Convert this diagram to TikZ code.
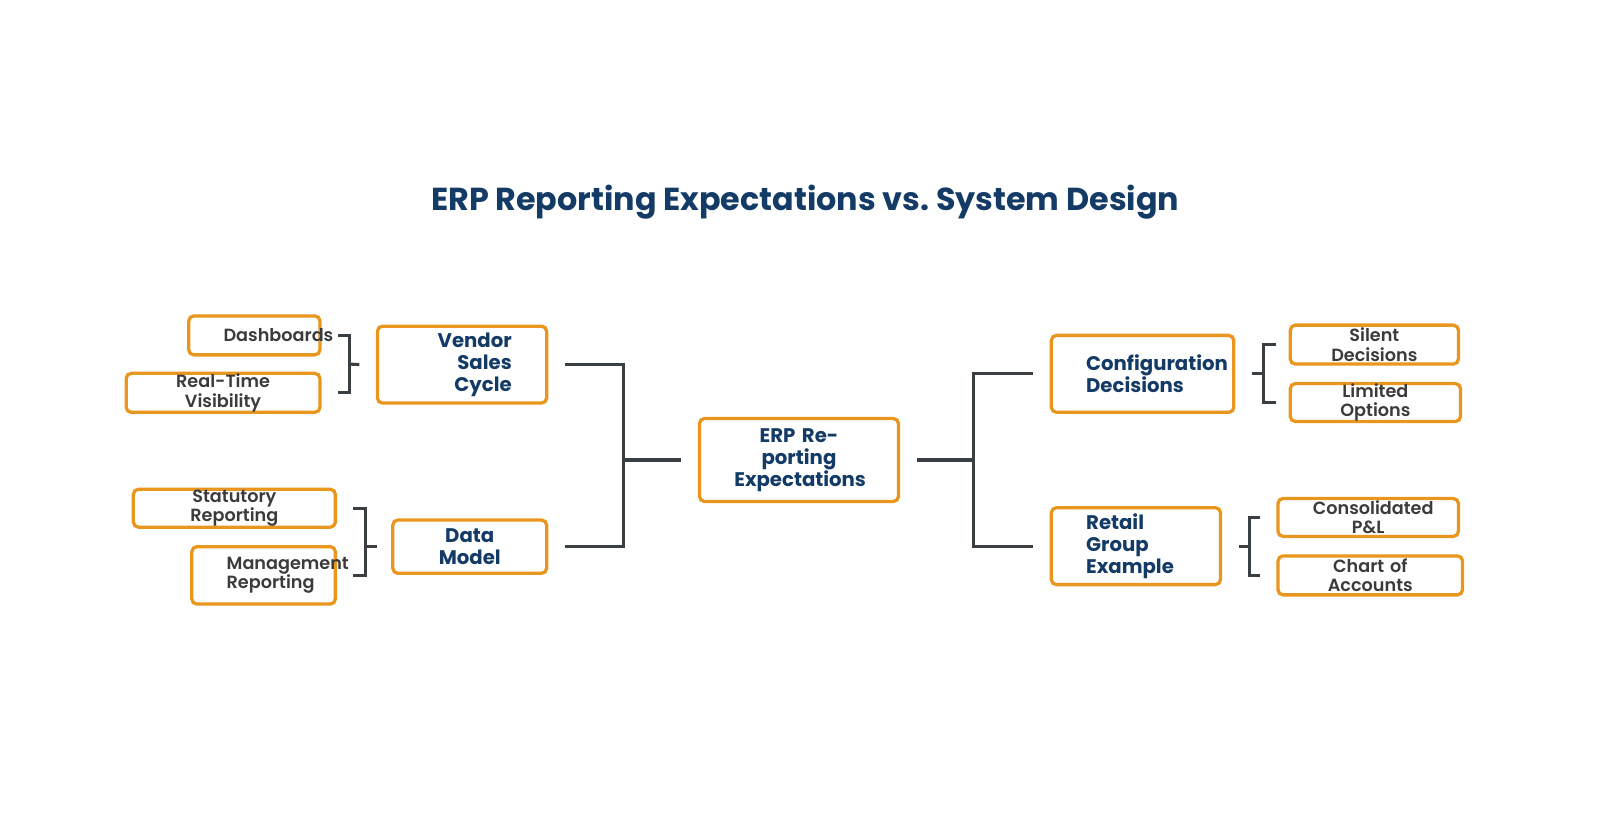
\documentclass[tikz,border=0pt]{standalone}
\usepackage{fontspec}
\setmainfont{Poppins}[UprightFont=* SemiBold,BoldFont=* Bold]
\begin{document}
\begin{tikzpicture}[x=0.5pt,y=-0.5pt,
 box/.style={draw=orangeB,line width=1.6pt,rounded corners=2.5pt,fill=white,inner sep=0pt,font=\fontsize{8.6}{9.4}\selectfont,text=grayT},
 big/.style={box,font=\bfseries\fontsize{9.6}{10.6}\selectfont,text=navy},
 ln/.style={draw=lineC,line width=1.5pt}]
\definecolor{orangeB}{HTML}{E8961E}
\definecolor{navy}{HTML}{143A66}
\definecolor{grayT}{HTML}{3B3B3B}
\definecolor{lineC}{HTML}{3A3F44}
\useasboundingbox (0,0) rectangle (1560,819);
\node[font=\bfseries\fontsize{15.5}{17}\selectfont,text=navy] (t) at (785,197) {ERP Reporting Expectations vs.\ System Design};
\def\bx#1#2#3#4#5#6#7{\node[#1,minimum width=#4,minimum height=#5,text width=#4-34,align=#6] (#2) at (#3) {#7};}
\bx{box}{d}{248,327}{64}{19}{center}{Dashboards}
\bx{box}{r}{217.5,383}{94.5}{19}{center}{Real-Time Visibility}
\bx{big}{v}{450.5,355.5}{82.5}{37.5}{right}{Vendor Sales\\Cycle}
\bx{box}{s}{228.5,495.5}{98.5}{18.5}{center}{Statutory Reporting}
\bx{box}{m}{257,561}{70}{28}{right}{Management\\Reporting}
\bx{big}{dm}{458,533}{75}{26}{center}{Data Model}
\bx{big}{e}{779,448.5}{97}{40.5}{center}{ERP Reporting\\Expectations}
\bx{big}{c}{1114,364.5}{89}{37.5}{left}{Configuration\\Decisions}
\bx{big}{rg}{1107.5,532.5}{82.5}{37.5}{left}{Retail Group\\Example}
\bx{box}{sd}{1340,336}{82}{19}{center}{Silent Decisions}
\bx{box}{lo}{1341,392.5}{83}{18.5}{center}{Limited Options}
\bx{box}{cp}{1334,504.5}{88}{18.5}{center}{Consolidated P\&L}
\bx{box}{ca}{1336,561}{90}{19}{center}{Chart of Accounts}
% left brackets
\draw[ln] ([xshift=8]d.east) -| (341,383) -- ([xshift=8]r.east);
\draw[ln] (341,355) -- ([xshift=-8]v.west);
\draw[ln] ([xshift=8]s.east) -| (356,561) -- ([xshift=8]m.east);
\draw[ln] (356,533) -- ([xshift=-7]dm.west);
\draw[ln] ([xshift=8]v.east) -| (608,533) -- ([xshift=8]dm.east);
\draw[ln] (608,448.5) -- ([xshift=-8]e.west);
% right
\draw[ln] ([xshift=8]e.east) -- (949,448.5);
\draw[ln] ([xshift=-8]c.west) -| (949,532.5) -- ([xshift=-8]rg.west);
\draw[ln] ([xshift=8]c.east) -- (1232,364.5);
\draw[ln] ([xshift=-6]sd.west) -| (1232,392.5) -- ([xshift=-6]lo.west);
\draw[ln] ([xshift=8]rg.east) -- (1218,532.5);
\draw[ln] ([xshift=-8]cp.west) -| (1218,561) -- ([xshift=-8]ca.west);
\end{tikzpicture}
\end{document}
